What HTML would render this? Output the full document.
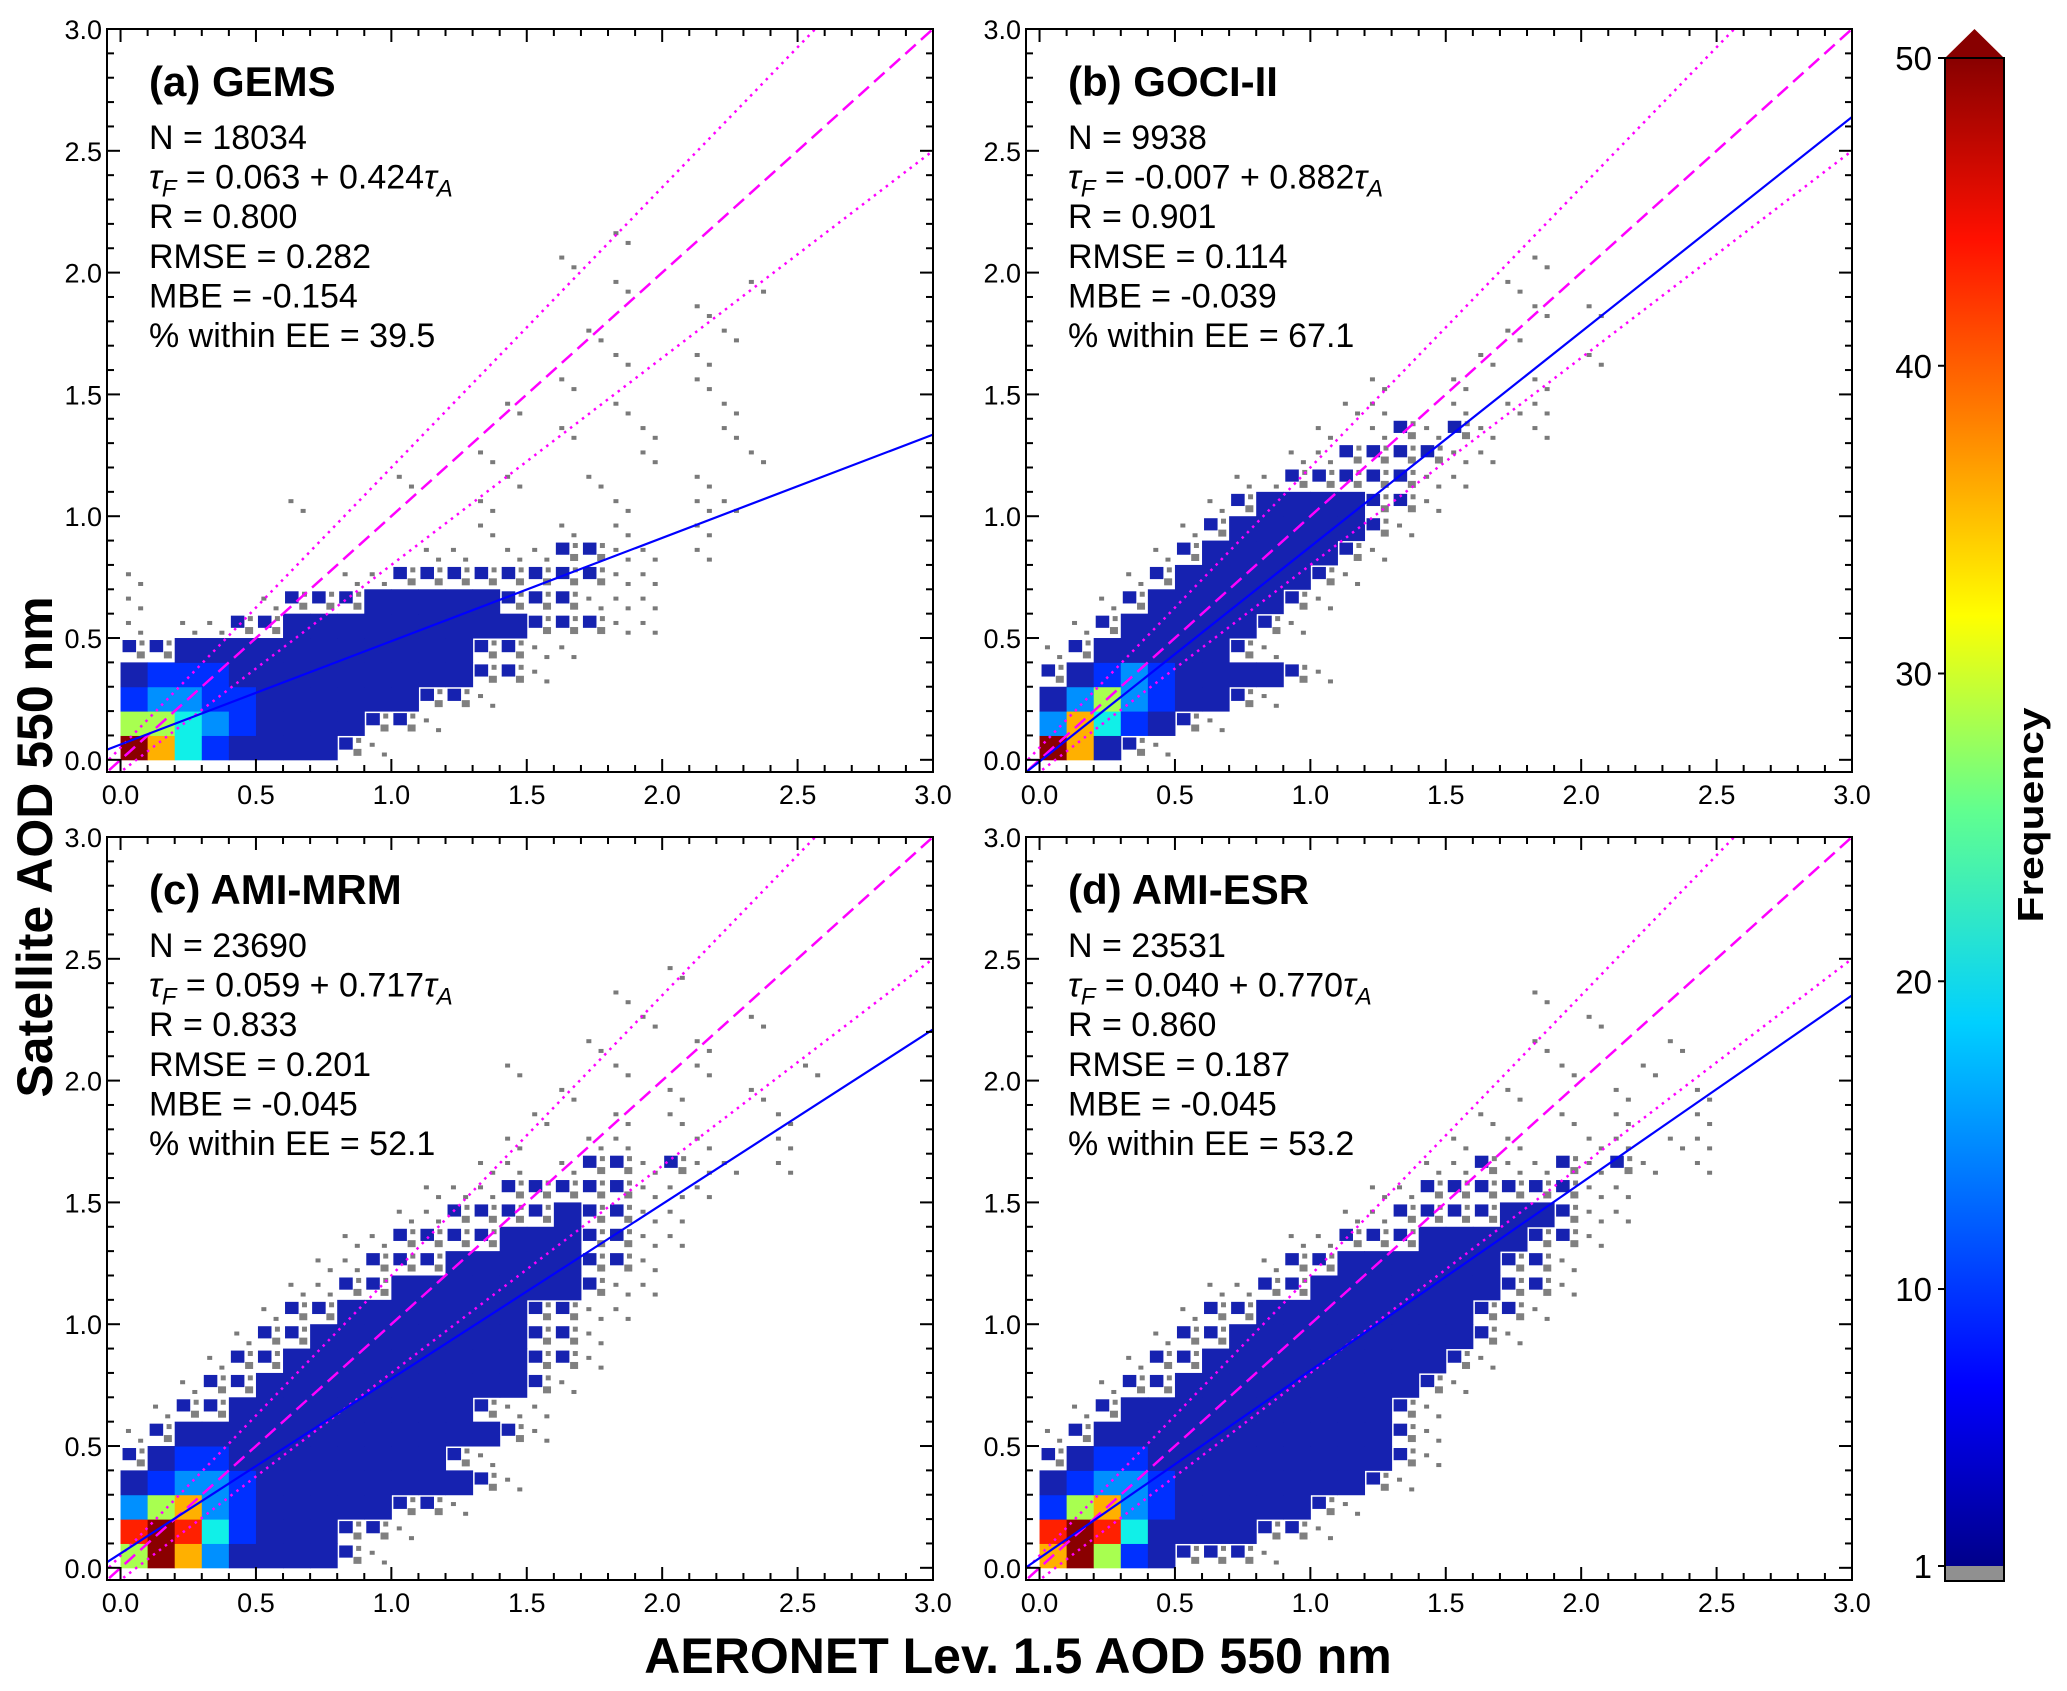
<!DOCTYPE html>
<html><head><meta charset="utf-8">
<style>
html,body{margin:0;padding:0;background:#fff;}
svg{display:block;font-family:"Liberation Sans",Arial,sans-serif;}
</style></head>
<body>
<svg id="fig" width="2067" height="1691" viewBox="0 0 2067 1691" xmlns="http://www.w3.org/2000/svg">
<defs>
<linearGradient id="jet" x1="0" y1="1" x2="0" y2="0">
<stop offset="0" stop-color="#00008a"/>
<stop offset="0.12" stop-color="#0000ff"/>
<stop offset="0.36" stop-color="#00d0ff"/>
<stop offset="0.5" stop-color="#60ff90"/>
<stop offset="0.63" stop-color="#ffff00"/>
<stop offset="0.76" stop-color="#ff8000"/>
<stop offset="0.88" stop-color="#ff1000"/>
<stop offset="1" stop-color="#880000"/>
</linearGradient>
</defs>
</svg>
<script>
// ---- data ----
const panelTitles = ["(a) GEMS","(b) GOCI-II","(c) AMI-MRM","(d) AMI-ESR"];
const panelN = ["18034","9938","23690","23531"];
const fitIntercept = [0.063,-0.007,0.059,0.040];
const fitSlope = [0.424,0.882,0.717,0.770];
const statR = ["0.800","0.901","0.833","0.860"];
const statRMSE = ["0.282","0.114","0.201","0.187"];
const statMBE = ["-0.154","-0.039","-0.045","-0.045"];
const statEE = ["39.5","67.1","52.1","53.2"];
const axisTicks = [0,0.5,1.0,1.5,2.0,2.5,3.0];
const axisTickLabels = ["0.0","0.5","1.0","1.5","2.0","2.5","3.0"];
const cbTicks = [1,10,20,30,40,50];
const cbTickLabels = ["1","10","20","30","40","50"];
// 2-D histogram, 0.1 AOD bins; row index = y bin (bottom first), char index = x bin
// levels: ' ' empty, '.' sparse (freq 1), ':' mixed low, '1'..'8' increasing frequency
const histA = [
"86421111:.",
"554321111::.",
"23322111111::.",
"1222111111111::.",
"::11111111111::..",
". ..::111111111:::..",
".    .:::11111:::...",
".       ..::::::::..",
"           .. ..::.. .",
"             .  . .  .",
"      .      .    .  .. ",
"          .   .  .   .  ",
"             .     .   .",
"                .  .  . ",
"              .   .   . ",
"                .    .  ",
"                  .  .  ",
"                 .    . ",
"                     .  ",
"                  .    .",
"                .       ",
"                  .     "];
const histB = [
"861:.",
"36421:.",
"1353211:.",
":12321111:.",
".:11111:.",
" .:11111:.",
"  .:11111:.",
"   .:11111:.",
"    .:11111:.",
"     .:11111:.",
"      .:1111::.",
"       ..:::::..",
"         ..::::..",
"          . .:.:. .",
"           ..  . ..",
"            .  .  .",
"                .   .",
"                 .  ",
"                  . .",
"                 .  ",
"                  ."];
const histC = [
"58631111:.",
"78742111::.",
"3563211111::.",
"1233211111111:.",
":12211111111:.",
".:111111111111:.",
" .::111111111:..",
"  .::1111111111:.",
"   .::111111111::.",
"    .::11111111::.",
"     .::1111111::..",
"      ..::1111111:..",
"       ..:::11111::.",
"        ..::::111::..",
"          ..::::1::..",
"           ...:::::...",
"             .. .::.:.. .",
"              .  ..  .  .",
"               .  . .   .",
"                .   .  . ",
"              .   .  .   .",
"                 .   .    ",
"                   .   .  ",
"                  .      ",
"                    .     "];
const histD = [
"68521:::.",
"78741111::.",
"2563211111:.",
"123321111111:.",
":122111111111:.",
".:11111111111:.",
" .:1111111111:.",
"  .::111111111:.",
"   .::111111111:.",
"    .::111111111:.",
"     .::11111111::.",
"      ..::1111111::.",
"        .::111111::.",
"         ..:::1111::.",
"           ..::::11:..",
"            ..::::::..",
"              ..:..:.:. .",
"               . .  .. ..",
"                .  . .  .",
"                 .   .  .",
"                   .  .  ",
"                  .    . ",
"                    .    ",
"                  .      "];
const hists = [histA,histB,histC,histD];

// ---- layout ----
const NS = "http://www.w3.org/2000/svg";
const svg = document.getElementById('fig');
const panelOrigins = [[107,29],[1026,29],[107,837],[1026,837]];
const PW = 826, PH = 743, VMIN = -0.05, VMAX = 3.0;
const levelColor = {"1":"#1622b0","2":"#0030ff","3":"#0090ff","4":"#10f0e8","5":"#a8ff50","6":"#ffb000","7":"#ff2000","8":"#8a0000"};

function mk(tag, attrs, parent){
  const e = document.createElementNS(NS, tag);
  for (const k in attrs) e.setAttribute(k, attrs[k]);
  (parent||svg).appendChild(e);
  return e;
}

panelOrigins.forEach((o, p) => {
  const L = o[0], T = o[1];
  const xs = v => L + (v - VMIN) / (VMAX - VMIN) * PW;
  const ys = v => T + PH - (v - VMIN) / (VMAX - VMIN) * PH;
  const g = mk('g', {});
  
  
  const cp = mk('clipPath', {id: 'clip' + p}, g);
  mk('rect', {x: L, y: T, width: PW, height: PH}, cp);
  const heat = mk('g', {'clip-path': 'url(#clip' + p + ')'}, g);
  
  
  hists[p].forEach((row, k) => {
    for (let i = 0; i < row.length; i++) {
      const ch = row[i];
      if (ch === ' ') continue;
      const x0 = xs(i * 0.1), x1 = xs((i + 1) * 0.1);
      const y0 = ys((k + 1) * 0.1), y1 = ys(k * 0.1);
      const w = x1 - x0, h = y1 - y0;
      if (levelColor[ch]) {
        const r = mk('rect', {x: x0, y: y0, width: w + 0.5, height: h + 0.5, fill: levelColor[ch]}, heat);
        
        
      } else if (ch === ':') {
        const r1 = mk('rect', {x: x0 + 2, y: y0 + 2, width: w / 2, height: h / 2, fill: '#1622b0'}, heat);
        
        
        const r2 = mk('rect', {x: x0 + w * 0.6, y: y0 + h * 0.55, width: 8, height: 7, fill: '#808080'}, heat);
        
        
        const r3 = mk('rect', {x: x0 + w * 0.7, y: y0 + h * 0.1, width: 5, height: 5, fill: '#808080'}, heat);
        
        
      } else {
        [[0.2, 0.3], [0.65, 0.7]].forEach(f => {
          const r = mk('rect', {x: x0 + f[0] * w, y: y0 + f[1] * h, width: 5, height: 4, fill: '#7a7a7a'}, heat);
          
          
        });
      }
    }
  });
  const lines = mk('g', {'clip-path': 'url(#clip' + p + ')', fill: 'none'}, g);
  const eeU = mk('line', {x1: xs(-0.1), y1: ys(-0.1 * 1.15 + 0.05), x2: xs(3), y2: ys(3 * 1.15 + 0.05), stroke: '#ff00ff', 'stroke-width': 2.5, 'stroke-dasharray': '2.5,5'}, lines);
  
  
  const eeL = mk('line', {x1: xs(-0.1), y1: ys(-0.1 * 0.85 - 0.05), x2: xs(3), y2: ys(3 * 0.85 - 0.05), stroke: '#ff00ff', 'stroke-width': 2.5, 'stroke-dasharray': '2.5,5'}, lines);
  
  
  const one = mk('line', {x1: xs(-0.1), y1: ys(-0.1), x2: xs(3), y2: ys(3), stroke: '#ff00ff', 'stroke-width': 2.5, 'stroke-dasharray': '14,7'}, lines);
  
  
  const fit = mk('line', {x1: xs(-0.1), y1: ys(fitIntercept[p] - 0.1 * fitSlope[p]), x2: xs(3), y2: ys(fitIntercept[p] + 3 * fitSlope[p]), stroke: '#0000ff', 'stroke-width': 2.2}, lines);
  
  
  const fr = mk('rect', {x: L, y: T, width: PW, height: PH, fill: 'none', stroke: '#000', 'stroke-width': 2}, g);
  
  
  // ticks
  for (let t = 0; t <= 30; t++) {
    const v = t / 10, major = (t % 5 === 0), len = major ? 13 : 7;
    const X = xs(v), Y = ys(v);
    mk('line', {x1: X, y1: T + PH, x2: X, y2: T + PH - len, stroke: '#000', 'stroke-width': 2}, g);
    mk('line', {x1: X, y1: T, x2: X, y2: T + len, stroke: '#000', 'stroke-width': 2}, g);
    mk('line', {x1: L, y1: Y, x2: L + len, y2: Y, stroke: '#000', 'stroke-width': 2}, g);
    mk('line', {x1: L + PW, y1: Y, x2: L + PW - len, y2: Y, stroke: '#000', 'stroke-width': 2}, g);
  }
  axisTicks.forEach((v, i) => {
    const tx = mk('text', {x: xs(v), y: T + PH + 32, 'text-anchor': 'middle', 'font-size': 27}, g);
    tx.textContent = axisTickLabels[i];
    
    
    const ty = mk('text', {x: L - 5, y: ys(v) + 10, 'text-anchor': 'end', 'font-size': 27}, g);
    ty.textContent = axisTickLabels[i];
    
    
  });
  // annotations
  const tt = mk('text', {x: L + 42, y: T + 67, 'font-size': 42, 'font-weight': 'bold'}, g);
  tt.textContent = panelTitles[p];
  
  
  const lh = 39.6, by = T + 120;
  const stats = [
    'N = ' + panelN[p], null,
    'R = ' + statR[p], 'RMSE = ' + statRMSE[p], 'MBE = ' + statMBE[p], '% within EE = ' + statEE[p]];
  stats.forEach((s, i) => {
    const t = mk('text', {x: L + 42, y: by + i * lh, 'font-size': 34}, g);
    
    
    if (s) { t.textContent = s; return; }
    const sgn = fitIntercept[p] < 0 ? '-' : '';
    const a = mk('tspan', {'font-style': 'italic'}, t); a.textContent = 'τ';
    const b = mk('tspan', {'font-style': 'italic', 'font-size': 24, dy: 8}, t); b.textContent = 'F';
    const c = mk('tspan', {dy: -8}, t); c.textContent = ' = ' + sgn + Math.abs(fitIntercept[p]).toFixed(3) + ' + ' + fitSlope[p].toFixed(3);
    const d = mk('tspan', {'font-style': 'italic'}, t); d.textContent = 'τ';
    const e = mk('tspan', {'font-style': 'italic', 'font-size': 24, dy: 8}, t); e.textContent = 'A';
  });
});

// axis titles
const yt = mk('text', {x: 0, y: 0, transform: 'translate(52,847) rotate(-90)', 'text-anchor': 'middle', 'font-size': 50, 'font-weight': 'bold'});
yt.textContent = 'Satellite AOD 550 nm';


const xt = mk('text', {x: 1018, y: 1673, 'text-anchor': 'middle', 'font-size': 50, 'font-weight': 'bold'});
xt.textContent = 'AERONET Lev. 1.5 AOD 550 nm';



// colorbar
const CBL = 1945, CBR = 2004, CBT = 58, CBB = 1566;
const cy = v => CBB - (v - 1) / 49 * (CBB - CBT);
const cb = mk('g', {});


mk('rect', {x: CBL, y: CBT, width: CBR - CBL, height: CBB - CBT, fill: 'url(#jet)'}, cb);
mk('rect', {x: CBL, y: CBB, width: CBR - CBL, height: 15, fill: '#909090'}, cb);
mk('polygon', {points: CBL + ',' + CBT + ' ' + (CBL + CBR) / 2 + ',29 ' + CBR + ',' + CBT, fill: '#880000'}, cb);
mk('rect', {x: CBL, y: CBT, width: CBR - CBL, height: CBB + 15 - CBT, fill: 'none', stroke: '#000', 'stroke-width': 2}, cb);
cbTicks.forEach((v, i) => {
  mk('line', {x1: CBL - 7, y1: cy(v), x2: CBL, y2: cy(v), stroke: '#000', 'stroke-width': 2}, cb);
  const t = mk('text', {x: 1932, y: cy(v) + 12, 'text-anchor': 'end', 'font-size': 33}, cb);
  t.textContent = cbTickLabels[i];
  
  
});
const ft = mk('text', {x: 0, y: 0, transform: 'translate(2043,815) rotate(-90)', 'text-anchor': 'middle', 'font-size': 36, 'font-weight': 'bold', textLength: 215, lengthAdjust: 'spacingAndGlyphs'});
ft.textContent = 'Frequency';


</script>
</body></html>
